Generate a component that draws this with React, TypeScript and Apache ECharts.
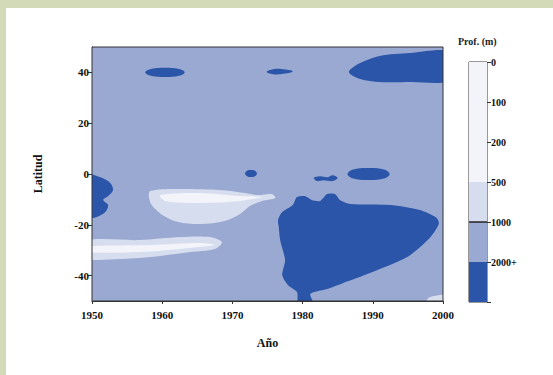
import React, { useEffect, useRef } from "react";
import * as echarts from "echarts";

// ---- data ----
const xTicks = [1950, 1960, 1970, 1980, 1990, 2000];
const yTicks = [-40, -20, 0, 20, 40];
const colorbarLabels = ["0", "100", "200", "500", "1000", "2000+"];
const colorbarBandLevels = ["white", "white", "white", "light", "medium", "dark"];

// contour regions: [year, latitude] outlines
const backgroundRegion = [[1950, 50], [2000, 50], [2000, -50], [1950, -50]];
const topLeftBlob = [[1957.6, 40], [1958.4, 41.3], [1960.4, 41.8], [1962.4, 41.3], [1963.2, 40], [1962.4, 38.7], [1960.4, 38.2], [1958.4, 38.7]];
const topMidBlob = [[1974.9, 40.2], [1975.8, 41.2], [1977, 41.3], [1978.6, 40.4], [1977, 39.4], [1975.8, 39.3]];
const topRightBlob = [[1986.6, 40.2], [1988.2, 43.7], [1991, 46.5], [1995.3, 47.6], [2001, 48.0], [2001, 37.0], [1995.3, 36.2], [1991, 36.2], [1988.2, 37.4]];
const equatorSmallBlob = [[1971.8, 0.2], [1972.1, 1.3], [1972.6, 1.6], [1973.2, 1.3], [1973.5, 0.2], [1973.2, -0.9], [1972.6, -1.2], [1972.1, -0.9]];
const equatorMidBlob = [[1981.6, -1.5], [1982.5, -0.9], [1983.5, -1.3], [1984.3, -0.5], [1985, -1.6], [1984.3, -2.8], [1983, -2.5], [1982, -2.8]];
const equatorRightBlob = [[1986.4, 0], [1987.2, 1.8], [1989.4, 2.4], [1991.6, 1.8], [1992.4, 0], [1991.6, -1.8], [1989.4, -2.4], [1987.2, -1.8]];
const leftEdgeBlob = [[1949, -0.4], [1951.1, -1.2], [1952.6, -3.5], [1953, -6.3], [1952.3, -8.7], [1951.6, -10.2], [1952.3, -12.2], [1951.9, -15.0], [1950.7, -16.9], [1949, -17.3]];
const bowlLight = [[1958.3, -6.7], [1961.8, -5.9], [1968.2, -6.3], [1971.8, -7.5], [1973.6, -8.3], [1975.6, -7.9], [1976.1, -9.4], [1974.2, -10.6], [1972.5, -12.6], [1971.1, -15.7], [1968.9, -18.5], [1965.4, -19.7], [1962.3, -18.9], [1960, -16.1], [1958.5, -12.2], [1958.1, -9.1]];
const bowlCore = [[1959.7, -8.3], [1965.4, -7.5], [1971.1, -8.7], [1974.2, -9.1], [1971.1, -10.6], [1965.4, -11.4], [1960.4, -10.6]];
const streakLight = [[1949, -26.4], [1956.8, -26.0], [1962.5, -24.8], [1966.8, -24.8], [1968.5, -26.8], [1967.5, -29.5], [1964, -30.7], [1958.3, -32.7], [1954, -33.5], [1949, -33.1]];
const streakCore = [[1949, -28.7], [1958.3, -28.0], [1965.4, -27.2], [1967.5, -28.0], [1964, -29.1], [1956.8, -30.7], [1949, -30.7]];
const bottomRightBlob = [[1976.6, -20.9], [1976.8, -26.0], [1977.5, -33.9], [1977.1, -39.8], [1977.9, -43.7], [1979.2, -46.5], [1979.4, -51], [1981.5, -51], [1981.1, -47.2], [1983.5, -45.3], [1985.8, -42.9], [1989.6, -39.0], [1994.9, -32.7], [1998.1, -25.2], [1999.4, -19.7], [1999.1, -17.3], [1996.7, -14.2], [1992.5, -12.2], [1986.8, -11.8], [1985.3, -10.2], [1984.6, -7.9], [1983.5, -7.9], [1982.5, -10.6], [1981.3, -10.2], [1980.3, -8.7], [1979.2, -9.1], [1978.6, -12.2], [1977.1, -15.0], [1976.5, -18.1]];
const bottomCornerLight = [[1997.5, -51], [1998, -48.6], [1999.5, -47.6], [2001, -47.4], [2001, -51]];

const regions = [
  { points: backgroundRegion, level: "medium", smooth: 0 },
  { points: topLeftBlob, level: "dark", smooth: 0.4 },
  { points: topMidBlob, level: "dark", smooth: 0.4 },
  { points: topRightBlob, level: "dark", smooth: 0.3 },
  { points: equatorSmallBlob, level: "dark", smooth: 0.4 },
  { points: equatorMidBlob, level: "dark", smooth: 0.3 },
  { points: equatorRightBlob, level: "dark", smooth: 0.4 },
  { points: leftEdgeBlob, level: "dark", smooth: 0.3 },
  { points: bowlLight, level: "light", smooth: 0.3 },
  { points: bowlCore, level: "white", smooth: 0.3 },
  { points: streakLight, level: "light", smooth: 0.3 },
  { points: streakCore, level: "white", smooth: 0.3 },
  { points: bottomRightBlob, level: "dark", smooth: 0.25 },
  { points: bottomCornerLight, level: "light", smooth: 0.2 },
];

const levelColors: Record<string, string> = {
  white: "#f2f4fa",
  light: "#d6ddee",
  medium: "#9aa9d1",
  dark: "#2a55a8",
};

const FONT = "Liberation Serif";

export default function App() {
  const ref = useRef<HTMLDivElement>(null);
  useEffect(() => {
    document.body.style.margin = "0";
    const chart = echarts.init(ref.current!, null, { renderer: "svg" });
    const labelStyle = { fontFamily: FONT, fontSize: 11, fontWeight: "bold" as const, color: "#111" };
    chart.setOption({
      animation: false,
      backgroundColor: "#ffffff",
      graphic: [
        { type: "rect", left: 0, top: 0, shape: { width: 6, height: 375 }, style: { fill: "#d3dab7" } },
        { type: "rect", left: 0, top: 0, shape: { width: 553, height: 8 }, style: { fill: "#d3dab7" } },
        {
          type: "text", left: 458, top: 36,
          style: { text: "Prof. (m)", fontFamily: FONT, fontSize: 10, fontWeight: "bold", fill: "#222" },
        },
      ],
      grid: [
        { left: 92, top: 47, width: 351, height: 254, show: true, borderColor: "#333", borderWidth: 1, backgroundColor: "transparent", z: 3 },
        { left: 469, top: 62, width: 18, height: 240, show: true, borderColor: "#333", borderWidth: 1 },
      ],
      xAxis: [
        {
          gridIndex: 0, type: "value", min: xTicks[0], max: xTicks[xTicks.length - 1], interval: 10,
          name: "Año", nameLocation: "middle", nameGap: 36,
          nameTextStyle: { ...labelStyle, fontSize: 12 },
          axisLine: { show: true, onZero: false, lineStyle: { color: "#333" } },
          axisTick: { show: true, length: 3, lineStyle: { color: "#333" } },
          axisLabel: { ...labelStyle, margin: 8, formatter: (v: number) => String(v) },
          splitLine: { show: false },
        },
        { gridIndex: 1, type: "value", min: 0, max: 1, show: false, axisLine: { onZero: false } },
      ],
      yAxis: [
        {
          gridIndex: 0, type: "value", min: -50, max: 50, interval: 10,
          name: "Latitud", nameLocation: "middle", nameGap: 48, nameRotate: 90,
          nameTextStyle: { ...labelStyle, fontSize: 12 },
          axisLine: { show: true, onZero: false, lineStyle: { color: "#333" } },
          axisTick: { show: true, length: 4, lineStyle: { color: "#333" }, customValues: yTicks },
          axisLabel: {
            ...labelStyle, margin: 3, customValues: yTicks,
            formatter: (v: number) => String(v),
          },
          splitLine: { show: false },
        },
        {
          gridIndex: 1, type: "value", min: 0, max: 6, interval: 1, inverse: true, position: "right",
          axisLine: { show: false, onZero: false },
          axisTick: { show: true, length: 4, lineStyle: { color: "#333" } },
          axisLabel: {
            ...labelStyle, fontSize: 10, margin: 4,
            formatter: (v: number) => colorbarLabels[v] ?? "",
          },
          splitLine: { show: false },
        },
      ],
      series: [
        {
          type: "custom",
          xAxisIndex: 0, yAxisIndex: 0,
          clip: true,
          data: regions.map((r) => r.points[0]),
          renderItem: (params: any, api: any) => {
            const r = regions[params.dataIndex];
            const pts = r.points.map((p) => api.coord(p));
            return {
              type: "polygon",
              shape: { points: pts, smooth: r.smooth },
              style: { fill: levelColors[r.level], stroke: "none" },
            };
          },
        },
        {
          type: "custom",
          xAxisIndex: 1, yAxisIndex: 1,
          data: colorbarBandLevels.map((_, i) => [0, i]),
          renderItem: (params: any, api: any) => {
            const i = params.dataIndex;
            const a = api.coord([0, i]);
            const b = api.coord([1, i + 1]);
            const children: any[] = [
              {
                type: "rect",
                shape: { x: a[0], y: a[1], width: b[0] - a[0], height: b[1] - a[1] },
                style: { fill: levelColors[colorbarBandLevels[i]] },
              },
            ];
            if (i === 4) {
              children.push({
                type: "line",
                shape: { x1: a[0], y1: a[1], x2: b[0], y2: a[1] },
                style: { stroke: "#222", lineWidth: 1.5 },
              });
            }
            return { type: "group", children };
          },
        },
      ],
    });
    return () => chart.dispose();
  }, []);
  return <div ref={ref} style={{ width: 553, height: 375 }} />;
}
